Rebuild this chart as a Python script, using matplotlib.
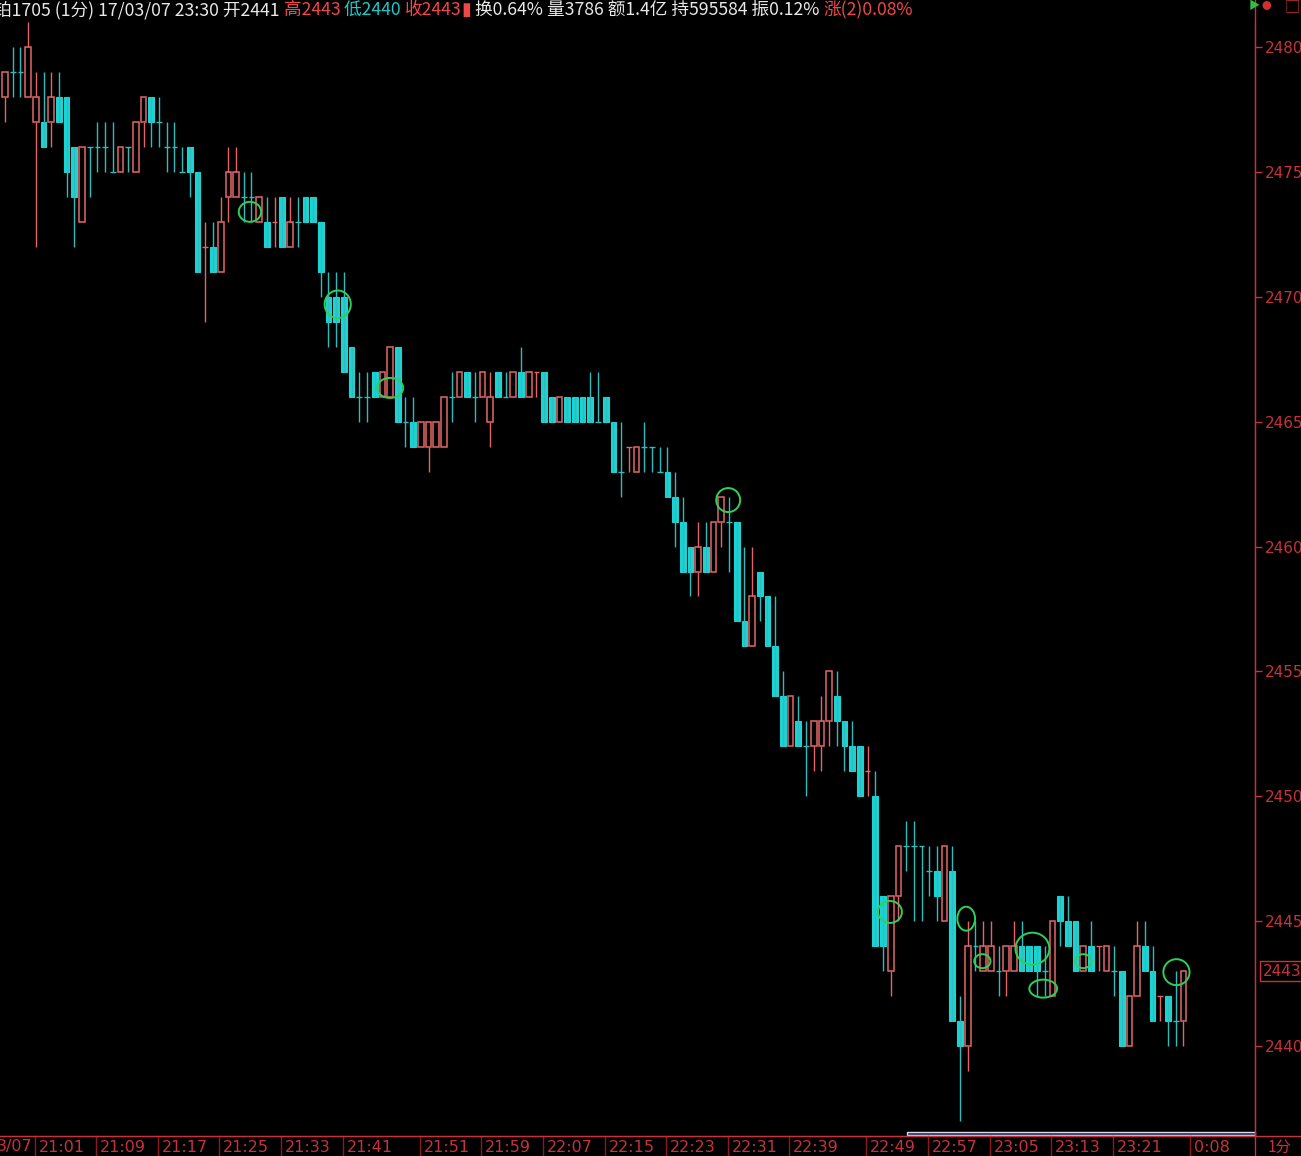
import matplotlib
matplotlib.use('Agg')
import matplotlib.pyplot as plt
from matplotlib.patches import Rectangle, Ellipse
from matplotlib import transforms

# 1-minute bars, 21:01 .. 23:30 (index 153 = 23:30)
opens = [2478, 2479, 2479, 2478, 2477, 2477, 2477, 2478, 2478, 2476,
         2473, 2476, 2476, 2476, 2475, 2475, 2476, 2475, 2477, 2478,
         2477, 2476, 2476, 2475, 2476, 2475, 2472, 2472, 2471, 2474,
         2474, 2474, 2474, 2473, 2473, 2473, 2474, 2472, 2473, 2474,
         2474, 2473, 2470, 2470, 2470, 2468, 2466, 2466, 2467, 2466,
         2466, 2468, 2465, 2465, 2464, 2464, 2464, 2464, 2466, 2466,
         2467, 2466, 2466, 2465, 2467, 2466, 2466, 2467, 2466, 2467,
         2467, 2466, 2465, 2466, 2466, 2466, 2466, 2465, 2466, 2465,
         2463, 2464, 2463, 2464, 2464, 2463, 2463, 2462, 2461, 2460,
         2459, 2460, 2459, 2461, 2461, 2461, 2457, 2456, 2459, 2458,
         2456, 2454, 2452, 2453, 2452, 2452, 2452, 2453, 2454, 2453,
         2452, 2452, 2451, 2450, 2446, 2443, 2446, 2448, 2448, 2448,
         2447, 2447, 2445, 2447, 2441, 2440, 2444, 2443, 2443, 2443,
         2443, 2443, 2444, 2444, 2444, 2443, 2442, 2446, 2445, 2445,
         2443, 2444, 2444, 2443, 2443, 2443, 2440, 2442, 2444, 2443,
         2442, 2442, 2441, 2441]
highs = [2479, 2480, 2480, 2481, 2479, 2479, 2479, 2479, 2478, 2476,
         2476, 2476, 2477, 2477, 2477, 2476, 2476, 2477, 2478, 2478,
         2478, 2477, 2477, 2476, 2476, 2475, 2473, 2473, 2474, 2476,
         2476, 2475, 2475, 2474, 2474, 2474, 2474, 2474, 2474, 2474,
         2474, 2473, 2471, 2471, 2471, 2468, 2467, 2467, 2467, 2467,
         2468, 2468, 2466, 2466, 2465, 2465, 2465, 2466, 2467, 2467,
         2467, 2467, 2467, 2467, 2467, 2467, 2467, 2468, 2467, 2467,
         2467, 2466, 2466, 2466, 2466, 2466, 2467, 2467, 2466, 2465,
         2465, 2464, 2464, 2465, 2464, 2464, 2464, 2463, 2462, 2460,
         2461, 2461, 2461, 2462, 2462, 2461, 2460, 2460, 2459, 2458,
         2458, 2455, 2454, 2454, 2453, 2453, 2454, 2455, 2455, 2453,
         2453, 2452, 2452, 2451, 2446, 2446, 2448, 2449, 2449, 2448,
         2448, 2448, 2448, 2448, 2442, 2445, 2445, 2445, 2445, 2444,
         2444, 2445, 2445, 2444, 2444, 2444, 2445, 2446, 2446, 2445,
         2444, 2445, 2444, 2444, 2444, 2443, 2442, 2445, 2445, 2444,
         2442, 2442, 2443, 2443]
lows = [2477, 2478, 2478, 2478, 2472, 2476, 2476, 2477, 2474, 2472,
        2473, 2474, 2475, 2475, 2475, 2475, 2475, 2475, 2476, 2476,
        2476, 2475, 2475, 2475, 2474, 2471, 2469, 2471, 2471, 2473,
        2474, 2473, 2473, 2473, 2472, 2472, 2472, 2472, 2472, 2473,
        2473, 2470, 2468, 2468, 2467, 2466, 2465, 2465, 2466, 2466,
        2466, 2465, 2464, 2464, 2464, 2463, 2464, 2464, 2465, 2466,
        2466, 2465, 2466, 2464, 2466, 2466, 2466, 2466, 2466, 2466,
        2465, 2465, 2465, 2465, 2465, 2465, 2465, 2465, 2465, 2463,
        2462, 2463, 2463, 2463, 2463, 2463, 2462, 2460, 2459, 2458,
        2458, 2459, 2459, 2460, 2459, 2457, 2456, 2456, 2457, 2456,
        2454, 2452, 2452, 2452, 2450, 2451, 2451, 2452, 2452, 2451,
        2451, 2450, 2450, 2444, 2443, 2442, 2445, 2447, 2445, 2445,
        2446, 2445, 2445, 2441, 2437, 2439, 2443, 2443, 2443, 2442,
        2442, 2443, 2443, 2443, 2442, 2442, 2442, 2444, 2444, 2443,
        2443, 2443, 2443, 2443, 2442, 2440, 2440, 2442, 2443, 2441,
        2441, 2440, 2440, 2440]
closes = [2479, 2479, 2479, 2480, 2478, 2476, 2478, 2477, 2475, 2474,
          2476, 2476, 2476, 2476, 2475, 2476, 2476, 2477, 2478, 2477,
          2477, 2476, 2476, 2475, 2475, 2471, 2472, 2471, 2473, 2475,
          2475, 2474, 2474, 2474, 2472, 2473, 2472, 2473, 2473, 2473,
          2473, 2471, 2469, 2469, 2467, 2466, 2466, 2466, 2466, 2467,
          2468, 2465, 2465, 2464, 2465, 2465, 2465, 2466, 2466, 2467,
          2466, 2466, 2467, 2466, 2466, 2466, 2467, 2466, 2467, 2467,
          2465, 2465, 2466, 2465, 2465, 2465, 2465, 2465, 2465, 2463,
          2463, 2464, 2464, 2464, 2464, 2463, 2462, 2461, 2459, 2459,
          2460, 2459, 2461, 2462, 2461, 2457, 2456, 2458, 2458, 2456,
          2454, 2452, 2454, 2452, 2452, 2453, 2453, 2455, 2453, 2452,
          2451, 2450, 2451, 2444, 2444, 2446, 2448, 2448, 2448, 2448,
          2447, 2446, 2448, 2441, 2440, 2444, 2444, 2444, 2444, 2443,
          2444, 2444, 2443, 2443, 2443, 2443, 2445, 2445, 2444, 2443,
          2444, 2443, 2444, 2444, 2443, 2440, 2442, 2444, 2443, 2441,
          2442, 2441, 2441, 2443]
# flat bars drawn in the "up" colour
doji_red = [26, 35, 69, 81, 112, 142, 150]

price_ticks = [2440, 2445, 2450, 2455, 2460, 2465, 2470, 2475, 2480]
time_pos = [4, 12, 20, 28, 36, 44, 54, 62, 70, 78, 86, 94, 102, 112, 120, 128, 136, 144, 154]
time_labels = ['21:01', '21:09', '21:17', '21:25', '21:33', '21:41', '21:51', '21:59', '22:07',
               '22:15', '22:23', '22:31', '22:39', '22:49', '22:57', '23:05', '23:13', '23:21', '0:08']
last_price = 2443

# hand drawn green marks: (bar, price, width, height)
marks = [(31.8, 2473.4, 2.9, 0.8), (43.2, 2469.7, 3.4, 1.1), (50.0, 2466.35, 3.4, 0.8),
         (93.9, 2461.86, 3.1, 0.96), (114.9, 2445.37, 3.1, 0.88), (124.8, 2445.1, 2.3, 0.96),
         (126.9, 2443.4, 2.1, 0.56), (133.4, 2443.9, 4.4, 1.28), (134.8, 2442.3, 3.6, 0.72),
         (140.0, 2443.4, 2.1, 0.56), (152.1, 2442.96, 3.4, 1.04)]

RED = '#e26668'
CYAN = '#1cd3d3'
CYAN_WICK = '#2fbcbc'
AXRED = '#c8323a'
W, H = 1301, 1156
FONT = ['Noto Sans CJK SC', 'DejaVu Sans']

fig = plt.figure(figsize=(W / 100, H / 100), dpi=100, facecolor='black')
ax = fig.add_axes([0, 20 / H, 1255 / W, 1116 / H], facecolor='black')

bw = 0.74
for i, (o, h, l, c) in enumerate(zip(opens, highs, lows, closes)):
    if o == c:
        col = RED if i in doji_red else CYAN_WICK
        ax.vlines(i, l, h, color=col, lw=1)
        ax.hlines(o, i - bw / 2, i + bw / 2, color=col, lw=1)
    elif c > o:
        ax.add_patch(Rectangle((i - bw / 2, o), bw, c - o, fill=False, edgecolor=RED, lw=1.1))
        if h > c:
            ax.vlines(i, c, h, color=RED, lw=1)
        if l < o:
            ax.vlines(i, l, o, color=RED, lw=1)
    else:
        ax.vlines(i, l, h, color=CYAN_WICK, lw=1)
        ax.add_patch(Rectangle((i - bw / 2, c), bw, o - c, facecolor=CYAN, edgecolor=CYAN, lw=0.8))

for mx, my, mw, mh in marks:
    ax.add_patch(Ellipse((mx, my), mw, mh, fill=False, edgecolor='#2fd05a', lw=1.4, zorder=5))

ax.set_xlim(-0.65, 162.3)
ax.set_ylim(2436.4, 2481.08)

for s in ['top', 'left']:
    ax.spines[s].set_visible(False)
ax.spines['right'].set_color(AXRED)
ax.spines['bottom'].set_color(AXRED)
ax.yaxis.tick_right()
ax.set_yticks(price_ticks)
ax.set_yticklabels([str(p) for p in price_ticks])
ax.tick_params(axis='y', colors=AXRED, length=5, width=1, pad=2, labelsize=11)
ax.set_xticks([])

# time axis
tr = transforms.blended_transform_factory(ax.transData, ax.transAxes)
for p, lab in zip(time_pos, time_labels):
    ax.plot([p - 0.15, p - 0.15], [0, -20 / 1116], color='#8c1a1a', lw=1, transform=tr, clip_on=False)
    ax.text(p + 0.35, -11 / 1116, lab, color=AXRED, fontsize=11.5, ha='left', va='center',
            transform=tr, clip_on=False)
ax.text(3.6, -11 / 1116, '3/07', color=AXRED, fontsize=11.5, ha='right', va='center',
        transform=tr, clip_on=False)

# scroll bar above the time axis
ax.add_patch(Rectangle((907 / 1255, 0.0012), 1 - 907 / 1255, 0.0028, transform=ax.transAxes,
                       facecolor='#1c2c5c', edgecolor='#d8d8e8', lw=1, clip_on=False))

# last price box
ax.text(1.006, (last_price - 2436.4) / (2481.08 - 2436.4), str(last_price), color=AXRED, fontsize=11,
        ha='left', va='center', transform=ax.transAxes, clip_on=False,
        bbox=dict(boxstyle='square,pad=0.15', facecolor='black', edgecolor=AXRED, lw=1))

# frame lines outside axes
fig.add_artist(plt.Line2D([1255 / W, 1255 / W], [0, 1], color=AXRED, lw=1))
fig.add_artist(plt.Line2D([0, 1], [20 / H, 20 / H], color=AXRED, lw=1))
fig.text(1268 / W, 9 / H, '1分', color=AXRED, fontsize=11, ha='left', va='center', family=FONT)

# top right icons
fig.text(1249 / W, 1 - 6 / H, '▶', color='#30c040', fontsize=8, ha='left', va='center', family=FONT)
fig.text(1262 / W, 1 - 6 / H, '●', color='#d03030', fontsize=7, ha='left', va='center', family=FONT)
fig.text(1284 / W, 1 - 7 / H, '□', color=AXRED, fontsize=11, ha='left', va='center', family=FONT)

# header line
header = [('铂1705 (1分) 17/03/07 23:30 开2441 ', '#e8e8e8'), ('高2443 ', '#f04848'),
          ('低2440 ', '#20c8c8'), ('收2443', '#f04848'), ('▮', '#f04848'),
          (' 换0.64% 量3786 额1.4亿 持595584 振0.12% ', '#e8e8e8'), ('涨(2)0.08%', '#f04848')]
renderer = fig.canvas.get_renderer()
x = -6.0
for txt, col in header:
    t = fig.text(x / W, 1 - 10 / H, txt, color=col, fontsize=12.7, ha='left', va='center', family=FONT)
    x += t.get_window_extent(renderer=renderer).width

fig.savefig('out.png', dpi=100, facecolor='black')
